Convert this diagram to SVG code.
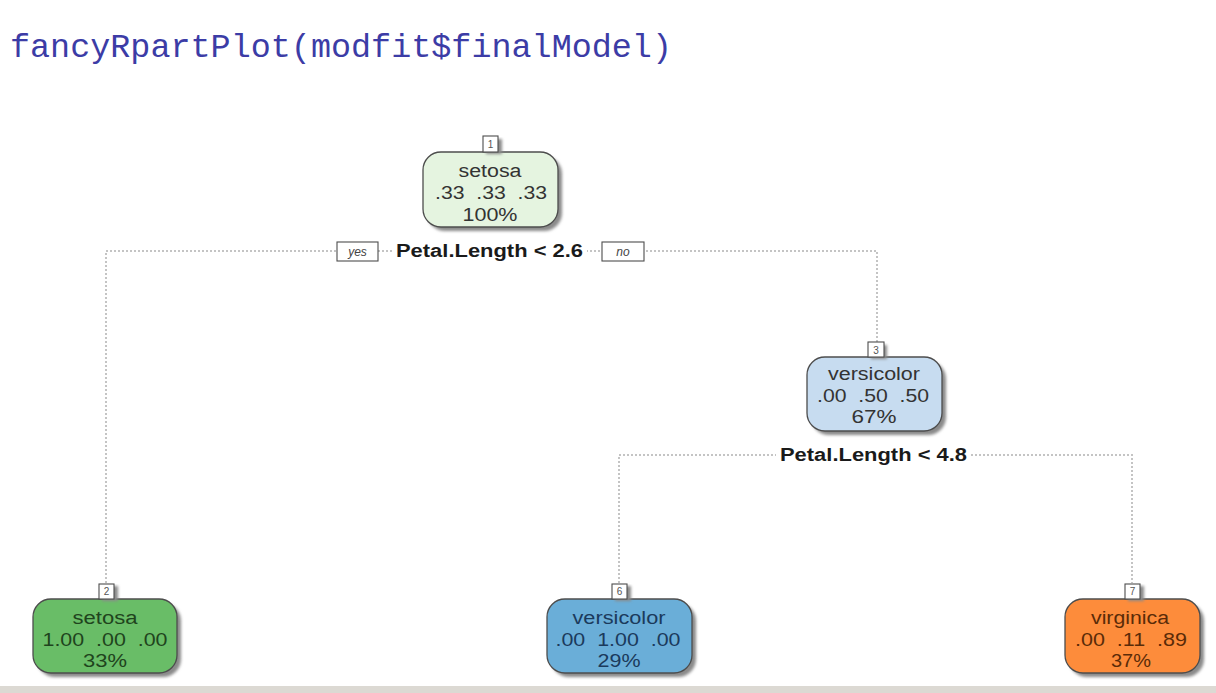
<svg xmlns="http://www.w3.org/2000/svg" width="1216" height="693" viewBox="0 0 1216 693">
  <defs>
    <filter id="soft" x="-10%" y="-10%" width="130%" height="130%">
      <feGaussianBlur stdDeviation="1.6"/>
    </filter>
  </defs>
  <style>
    .title { font-family: "Liberation Mono", "Courier New", monospace; font-size: 33px; fill: #3c3ca6; }
    .lbl { font-family: "Liberation Sans", Arial, sans-serif; font-size: 18px; text-anchor: middle; }
    .split { font-family: "Liberation Sans", Arial, sans-serif; font-size: 18px; font-weight: bold; fill: #1a1a1a; }
    .edge { fill: none; stroke: #c4c4c4; stroke-width: 2; stroke-dasharray: 2 2; }
    .shadow { fill: #8a8a8a; filter: url(#soft); }
    .box { stroke: #4d4d4d; stroke-width: 1.3; }
    .num { fill: #ffffff; stroke: #4d4d4d; stroke-width: 1.1; }
    .numtxt { font-family: "Liberation Sans", Arial, sans-serif; font-size: 10px; text-anchor: middle; fill: #555; }
    .tag { fill: #ffffff; stroke: #4d4d4d; stroke-width: 1.1; }
    .tagtxt { font-family: "Liberation Sans", Arial, sans-serif; font-size: 12px; font-style: italic; text-anchor: middle; fill: #444; }
  </style>

  <rect x="0" y="0" width="1216" height="693" fill="#ffffff"/>
  <rect x="0" y="686" width="1216" height="7" fill="#dcd9d3"/>

  <text class="title" x="10" y="57" textLength="662" lengthAdjust="spacingAndGlyphs">fancyRpartPlot(modfit$finalModel)</text>

  <!-- dotted connectors -->
  <g id="connectors">
    <path class="edge" d="M106,583 V251 H877 V342"/>
    <path class="edge" d="M619,583 V455 H1132 V583"/>
  </g>

  <!-- split labels -->
  <g id="split1">
    <rect x="392" y="241" width="195" height="20" fill="#ffffff"/>
    <text class="split" x="396" y="257" textLength="187" lengthAdjust="spacingAndGlyphs">Petal.Length &lt; 2.6</text>
    <rect class="tag" x="337" y="242" width="41" height="19"/>
    <text class="tagtxt" x="357.5" y="256">yes</text>
    <rect class="tag" x="602" y="242" width="42" height="19"/>
    <text class="tagtxt" x="623" y="256">no</text>
  </g>
  <g id="split3">
    <rect x="776" y="445" width="195" height="20" fill="#ffffff"/>
    <text class="split" x="780" y="461" textLength="187" lengthAdjust="spacingAndGlyphs">Petal.Length &lt; 4.8</text>
  </g>

  <!-- node 1 -->
  <g id="node1">
    <rect class="shadow" x="427" y="156" width="135" height="75" rx="18"/>
    <rect class="box" x="423" y="152" width="135" height="75" rx="18" fill="#e5f4e0"/>
    <rect class="shadow" x="486" y="139" width="16" height="15"/>
    <rect class="num" x="483" y="136" width="15" height="16"/>
    <text class="numtxt" x="490.5" y="148">1</text>
    <g class="lbl" fill="#333333">
      <text x="490" y="177" textLength="63" lengthAdjust="spacingAndGlyphs">setosa</text>
      <text x="491" y="199" textLength="112" lengthAdjust="spacingAndGlyphs" xml:space="preserve">.33  .33  .33</text>
      <text x="490" y="221" textLength="55" lengthAdjust="spacingAndGlyphs">100%</text>
    </g>
  </g>

  <!-- node 3 -->
  <g id="node3">
    <rect class="shadow" x="811" y="361" width="135" height="74" rx="18"/>
    <rect class="box" x="807" y="357" width="135" height="74" rx="18" fill="#c7dcf0"/>
    <rect class="shadow" x="871" y="345" width="16" height="14"/>
    <rect class="num" x="868" y="342" width="16" height="15"/>
    <text class="numtxt" x="876" y="354">3</text>
    <g class="lbl" fill="#333333">
      <text x="874" y="380" textLength="92" lengthAdjust="spacingAndGlyphs">versicolor</text>
      <text x="873" y="402" textLength="112" lengthAdjust="spacingAndGlyphs" xml:space="preserve">.00  .50  .50</text>
      <text x="874" y="423" textLength="45" lengthAdjust="spacingAndGlyphs">67%</text>
    </g>
  </g>

  <!-- node 2 -->
  <g id="node2">
    <rect class="shadow" x="37" y="603" width="144" height="74" rx="18"/>
    <rect class="box" x="33" y="599" width="144" height="74" rx="18" fill="#69bd67"/>
    <rect class="shadow" x="102" y="586" width="16" height="15"/>
    <rect class="num" x="99" y="584" width="15" height="15"/>
    <text class="numtxt" x="106.5" y="595">2</text>
    <g class="lbl" fill="#1f441d">
      <text x="105" y="624" textLength="65" lengthAdjust="spacingAndGlyphs">setosa</text>
      <text x="105" y="646" textLength="125" lengthAdjust="spacingAndGlyphs" xml:space="preserve">1.00  .00  .00</text>
      <text x="105" y="667" textLength="44" lengthAdjust="spacingAndGlyphs">33%</text>
    </g>
  </g>

  <!-- node 6 -->
  <g id="node6">
    <rect class="shadow" x="551" y="603" width="145" height="74" rx="18"/>
    <rect class="box" x="547" y="599" width="145" height="74" rx="18" fill="#6aaed8"/>
    <rect class="shadow" x="615" y="586" width="16" height="15"/>
    <rect class="num" x="612" y="584" width="15" height="15"/>
    <text class="numtxt" x="619.5" y="595">6</text>
    <g class="lbl" fill="#1b3a5c">
      <text x="619" y="624" textLength="93" lengthAdjust="spacingAndGlyphs">versicolor</text>
      <text x="618" y="646" textLength="125" lengthAdjust="spacingAndGlyphs" xml:space="preserve">.00  1.00  .00</text>
      <text x="619" y="667" textLength="43" lengthAdjust="spacingAndGlyphs">29%</text>
    </g>
  </g>

  <!-- node 7 -->
  <g id="node7">
    <rect class="shadow" x="1069" y="603" width="135" height="74" rx="18"/>
    <rect class="box" x="1065" y="599" width="135" height="74" rx="18" fill="#fd8c3b"/>
    <rect class="shadow" x="1128" y="586" width="16" height="15"/>
    <rect class="num" x="1125" y="584" width="15" height="15"/>
    <text class="numtxt" x="1132.5" y="595">7</text>
    <g class="lbl" fill="#5a2b08">
      <text x="1130" y="624" textLength="78" lengthAdjust="spacingAndGlyphs">virginica</text>
      <text x="1131" y="646" textLength="112" lengthAdjust="spacingAndGlyphs" xml:space="preserve">.00  .11  .89</text>
      <text x="1131" y="667" textLength="40" lengthAdjust="spacingAndGlyphs">37%</text>
    </g>
  </g>
</svg>
